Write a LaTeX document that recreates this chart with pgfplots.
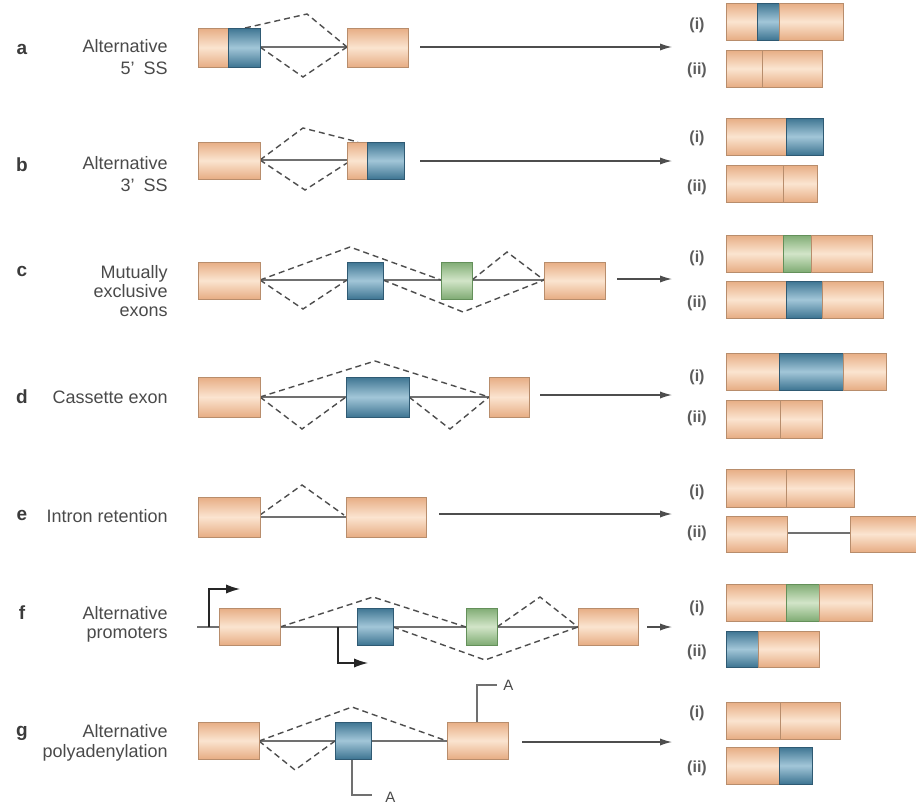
\documentclass[border=0pt]{standalone}
\usepackage{pgfplots}
\pgfplotsset{compat=1.18}
\usepackage{fontspec}
\setmainfont{Liberation Sans}
\usetikzlibrary{arrows.meta}

\definecolor{orE}{HTML}{E7AD84}
\definecolor{orM}{HTML}{FBE4D0}
\definecolor{orB}{HTML}{B88D6C}
\definecolor{blE}{HTML}{3E7592}
\definecolor{blM}{HTML}{A2C6D8}
\definecolor{blB}{HTML}{2F5A73}
\definecolor{grE}{HTML}{80AC74}
\definecolor{grM}{HTML}{D2E5C8}
\definecolor{grB}{HTML}{64905A}
\definecolor{txt}{HTML}{4A4A4A}
\definecolor{dash}{HTML}{4E4E4E}
\definecolor{intr}{HTML}{707070}

\pgfplotsset{
  or/.style={draw=orB, line width=0.4pt, top color=orE, bottom color=orE, middle color=orM},
  bl/.style={draw=blB, line width=0.4pt, top color=blE, bottom color=blE, middle color=blM},
  gr/.style={draw=grB, line width=0.4pt, top color=grE, bottom color=grE, middle color=grM},
  intron/.style={draw=intr, line width=0.6pt},
  splice/.style={draw=dash, line width=0.7pt, dash pattern=on 3pt off 2pt},
  arr/.style={draw=dash, line width=0.6pt, -{Latex[length=6pt,width=3.6pt]}},
  prom/.style={draw=black!85, line width=0.6pt, -{Latex[length=7pt,width=4.6pt]}},
}
% exon box: style, x1, x2, y1, y2 (pixel units, y downwards)
\newcommand{\ex}[5]{\addplot[#1] coordinates {(#2,#4) (#3,#4) (#3,#5) (#2,#5)} -- cycle;}
\newcommand{\lbl}[3]{\node[anchor=east, inner sep=0pt, text height=6.8pt, text depth=1.9pt, text=txt, font=\fontsize{9}{11}\selectfont] at (axis cs:#1,#2) {#3};}
\newcommand{\panel}[2]{\node[inner sep=0pt, text height=6.8pt, text depth=1.9pt, text=txt!80!black, font=\fontsize{9.5}{11}\selectfont\bfseries] at (axis cs:22,#1) {#2};}
\newcommand{\rn}[2]{\node[inner sep=0pt, text=txt!90, font=\fontsize{8}{10}\selectfont\bfseries] at (axis cs:697,#1) {#2};}

\begin{document}
\begin{tikzpicture}
\begin{axis}[
    scale only axis,
    width=458pt, height=401.5pt,
    xmin=0, xmax=916, ymin=0, ymax=803,
    y dir=reverse,
    hide axis,
    clip=false,
]

% ---------- a: alternative 5' SS ----------
\addplot[intron] coordinates {(260,47) (347,47)};
\addplot[splice] coordinates {(245,28) (307,14) (347,47)};
\addplot[splice] coordinates {(260,47) (303,77) (347,47)};
\ex{or}{198}{228}{28}{67}
\ex{bl}{228}{260}{28}{67}
\ex{or}{347}{408}{28}{67}
\addplot[arr] coordinates {(420,47) (672,47)};
\ex{or}{726}{757}{3}{40}
\ex{bl}{757}{779}{3}{40}
\ex{or}{779}{843}{3}{40}
\ex{or}{726}{762}{50}{87}
\ex{or}{762}{822}{50}{87}

% ---------- b: alternative 3' SS ----------
\addplot[intron] coordinates {(260,160) (347,160)};
\addplot[splice] coordinates {(260,160) (303,128) (358,142)};
\addplot[splice] coordinates {(260,160) (305,190) (347,163)};
\ex{or}{198}{260}{142}{179}
\ex{or}{347}{367}{142}{179}
\ex{bl}{367}{404}{142}{179}
\addplot[arr] coordinates {(420,161) (672,161)};
\ex{or}{726}{786}{118}{155}
\ex{bl}{786}{823}{118}{155}
\ex{or}{726}{783}{165}{202}
\ex{or}{783}{817}{165}{202}

% ---------- c: mutually exclusive exons ----------
\addplot[intron] coordinates {(260,280) (544,280)};
\addplot[splice] coordinates {(260,280) (350,247) (441,280)};
\addplot[splice] coordinates {(260,280) (303,309) (347,280)};
\addplot[splice] coordinates {(383,280) (463,312) (544,280)};
\addplot[splice] coordinates {(472,280) (507,252) (544,280)};
\ex{or}{198}{260}{262}{299}
\ex{bl}{347}{383}{262}{299}
\ex{gr}{441}{472}{262}{299}
\ex{or}{544}{605}{262}{299}
\addplot[arr] coordinates {(617,279) (672,279)};
\ex{or}{726}{783}{235}{272}
\ex{gr}{783}{811}{235}{272}
\ex{or}{811}{872}{235}{272}
\ex{or}{726}{786}{281}{318}
\ex{bl}{786}{822}{281}{318}
\ex{or}{822}{883}{281}{318}

% ---------- d: cassette exon ----------
\addplot[intron] coordinates {(260,397) (489,397)};
\addplot[splice] coordinates {(260,397) (375,361) (489,397)};
\addplot[splice] coordinates {(260,397) (302,429) (346,397)};
\addplot[splice] coordinates {(409,397) (450,429) (489,397)};
\ex{or}{198}{260}{377}{417}
\ex{bl}{346}{409}{377}{417}
\ex{or}{489}{529}{377}{417}
\addplot[arr] coordinates {(540,395) (672,395)};
\ex{or}{726}{779}{353}{390}
\ex{bl}{779}{843}{353}{390}
\ex{or}{843}{886}{353}{390}
\ex{or}{726}{780}{400}{438}
\ex{or}{780}{822}{400}{438}

% ---------- e: intron retention ----------
\addplot[intron] coordinates {(260,517) (346,517)};
\addplot[splice] coordinates {(260,515) (302,485) (344,515)};
\ex{or}{198}{260}{497}{537}
\ex{or}{346}{426}{497}{537}
\addplot[arr] coordinates {(439,514) (672,514)};
\ex{or}{726}{786}{469}{507}
\ex{or}{786}{854}{469}{507}
\addplot[intron] coordinates {(787,533) (850,533)};
\ex{or}{726}{787}{516}{552}
\ex{or}{850}{916}{516}{552}

% ---------- f: alternative promoters ----------
\addplot[intron] coordinates {(197,627) (578,627)};
\addplot[prom] coordinates {(209,627) (209,589) (240,589)};
\addplot[prom] coordinates {(338,627) (338,663) (368,663)};
\addplot[splice] coordinates {(280,627) (373,597) (466,627)};
\addplot[splice] coordinates {(497,627) (540,597) (578,627)};
\addplot[splice] coordinates {(393,627) (485,660) (578,627)};
\ex{or}{219}{280}{608}{645}
\ex{bl}{357}{393}{608}{645}
\ex{gr}{466}{497}{608}{645}
\ex{or}{578}{638}{608}{645}
\addplot[arr] coordinates {(647,627) (672,627)};
\ex{or}{726}{786}{584}{621}
\ex{gr}{786}{819}{584}{621}
\ex{or}{819}{872}{584}{621}
\ex{bl}{726}{758}{631}{667}
\ex{or}{758}{819}{631}{667}

% ---------- g: alternative polyadenylation ----------
\addplot[intron] coordinates {(259,741) (447,741)};
\addplot[splice] coordinates {(259,741) (352,707) (447,741)};
\addplot[splice] coordinates {(259,741) (295,770) (335,741)};
\addplot[intron] coordinates {(352,759) (352,795) (372,795)};
\addplot[intron] coordinates {(477,722) (477,685) (497,685)};
\ex{or}{198}{259}{722}{759}
\ex{bl}{335}{371}{722}{759}
\ex{or}{447}{508}{722}{759}
\addplot[arr] coordinates {(522,742) (672,742)};
\ex{or}{726}{780}{702}{739}
\ex{or}{780}{840}{702}{739}
\ex{or}{726}{779}{747}{784}
\ex{bl}{779}{812}{747}{784}

% ---------- labels ----------
\panel{50}{a}
\panel{167}{b}
\panel{272}{c}
\panel{399}{d}
\panel{516}{e}
\panel{615}{f}
\panel{732}{g}

\lbl{168}{48}{Alternative}
\lbl{168}{70}{5'\hspace{0.5em}SS}
\lbl{168}{165}{Alternative}
\lbl{168}{187}{3'\hspace{0.5em}SS}
\lbl{168}{274}{Mutually}
\lbl{168}{293}{exclusive}
\lbl{168}{312}{exons}
\lbl{168}{399}{Cassette exon}
\lbl{168}{518}{Intron retention}
\lbl{168}{615}{Alternative}
\lbl{168}{634}{promoters}
\lbl{168}{733}{Alternative}
\lbl{168}{753}{polyadenylation}

\node[anchor=west, inner sep=0pt, text=txt, font=\fontsize{7.5}{9}\selectfont] at (axis cs:385,797) {A};
\node[anchor=west, inner sep=0pt, text=txt, font=\fontsize{7.5}{9}\selectfont] at (axis cs:503,685) {A};

\rn{25}{(i)}   \rn{70}{(ii)}
\rn{138}{(i)}  \rn{187}{(ii)}
\rn{258}{(i)}  \rn{303}{(ii)}
\rn{377}{(i)}  \rn{418}{(ii)}
\rn{492}{(i)}  \rn{533}{(ii)}
\rn{608}{(i)}  \rn{652}{(ii)}
\rn{713}{(i)}  \rn{768}{(ii)}

\end{axis}
\pgfresetboundingbox
\path (current axis.south west) rectangle (current axis.north east);
\end{tikzpicture}
\end{document}
